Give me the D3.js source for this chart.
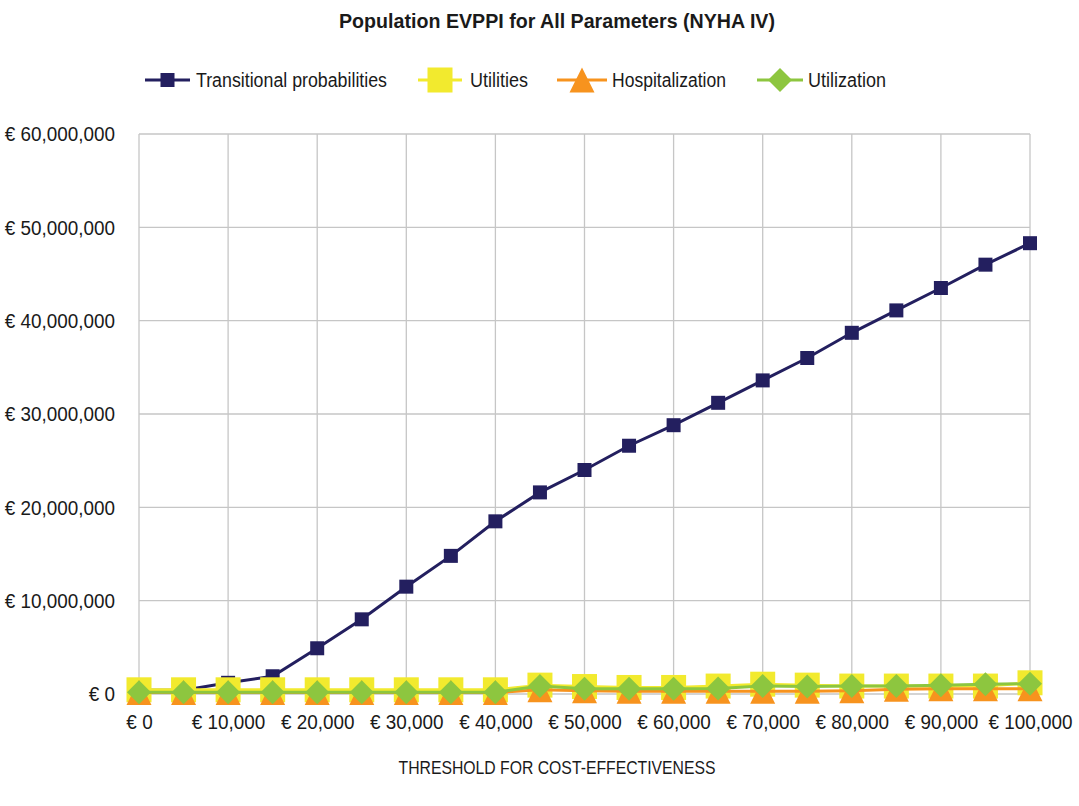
<!DOCTYPE html>
<html>
<head>
<meta charset="utf-8">
<script src="https://cdn.jsdelivr.net/npm/d3@7"></script>
<style>
  body { margin: 0; background: #fff; }
  svg text { font-family: "Liberation Sans", Arial, Helvetica, sans-serif; fill: #1a1a1a; }
</style>
</head>
<body>
<svg id="chart" width="1079" height="806"></svg>
<script>
const thresholds = [0,5000,10000,15000,20000,25000,30000,35000,40000,45000,50000,55000,60000,65000,70000,75000,80000,85000,90000,95000,100000];
const transitional = [0.4,0.4,1.2,1.9,4.9,8.0,11.5,14.8,18.5,21.6,24.0,26.6,28.8,31.2,33.6,36.0,38.7,41.1,43.5,46.0,48.3].map(v => v*1e6);
const utilities =    [0.45,0.45,0.45,0.45,0.45,0.45,0.45,0.45,0.45,0.95,0.8,0.7,0.7,0.85,1.05,0.95,0.85,0.85,0.85,0.85,1.2].map(v => v*1e6);
const hospitalization = [0.15,0.15,0.15,0.15,0.15,0.15,0.15,0.15,0.15,0.45,0.35,0.3,0.3,0.3,0.3,0.3,0.35,0.5,0.55,0.55,0.55].map(v => v*1e6);
const utilization = [0.2,0.2,0.2,0.2,0.2,0.2,0.2,0.2,0.2,0.85,0.55,0.55,0.55,0.6,0.85,0.8,0.85,0.85,0.95,1.05,1.1].map(v => v*1e6);
const yTicks = [0,10000000,20000000,30000000,40000000,50000000,60000000];
const xTicks = [0,10000,20000,30000,40000,50000,60000,70000,80000,90000,100000];
const seriesNames = ["Transitional probabilities","Utilities","Hospitalization","Utilization"];
const colors = ["#231f5f","#f2ea2e","#f7931e","#8dc63f"];
const titleText = "Population EVPPI for All Parameters (NYHA IV)";
const xTitle = "THRESHOLD FOR COST-EFFECTIVENESS";

const svg = d3.select("#chart");
const pl = 139, pr = 1030, pt = 134, pb = 694;
const x = d3.scaleLinear().domain([0,100000]).range([pl,pr]);
const y = d3.scaleLinear().domain([0,60000000]).range([pb,pt]);
const fmt = v => "€ " + d3.format(",")(v);
const squeeze = 0.9;

// gridlines
svg.append("g").selectAll("line").data(yTicks).join("line")
  .attr("x1", pl).attr("x2", pr).attr("y1", d => y(d)).attr("y2", d => y(d))
  .attr("stroke", "#c6c6c6").attr("stroke-width", 1.3);
svg.append("g").selectAll("line").data(xTicks).join("line")
  .attr("x1", d => x(d)).attr("x2", d => x(d)).attr("y1", pt).attr("y2", pb)
  .attr("stroke", "#c6c6c6").attr("stroke-width", 1.3);

// axes (labels only)
const yAxis = d3.axisLeft(y).tickValues(yTicks).tickFormat(fmt).tickSize(0).tickPadding(24);
const gy = svg.append("g").attr("transform", `translate(${pl},0)`).call(yAxis);
gy.attr("font-family", null).attr("font-size", null);
gy.select(".domain").remove();
gy.selectAll("text").attr("font-size", 21).attr("fill", "#1a1a1a")
  .attr("x", null).attr("transform", `translate(-24,0) scale(${squeeze},1)`);

const xAxis = d3.axisBottom(x).tickValues(xTicks).tickFormat(fmt).tickSize(0).tickPadding(20);
const gx = svg.append("g").attr("transform", `translate(0,${pb})`).call(xAxis);
gx.attr("font-family", null).attr("font-size", null);
gx.select(".domain").remove();
gx.selectAll("text").attr("font-size", 21).attr("fill", "#1a1a1a")
  .attr("transform", `scale(${squeeze},1)`);

// title
svg.append("text").attr("x", 557).attr("y", 28).attr("text-anchor", "middle")
  .attr("font-size", 21).attr("font-weight", "bold")
  .attr("textLength", 436).attr("lengthAdjust", "spacingAndGlyphs").text(titleText);
svg.append("text").attr("x", 557).attr("y", 774).attr("text-anchor", "middle")
  .attr("font-size", 18).attr("textLength", 317).attr("lengthAdjust", "spacingAndGlyphs").text(xTitle);

// markers
function square(g, cx, cy, s, c) {
  g.append("rect").attr("x", cx - s/2).attr("y", cy - s/2).attr("width", s).attr("height", s).attr("fill", c);
}
function triangle(g, cx, cy, s, c) {
  g.append("path").attr("d", `M${cx},${cy - s/2}L${cx + s/2},${cy + s/2}L${cx - s/2},${cy + s/2}Z`).attr("fill", c);
}
function diamond(g, cx, cy, s, c) {
  g.append("path").attr("d", `M${cx},${cy - s/2}L${cx + s/2},${cy}L${cx},${cy + s/2}L${cx - s/2},${cy}Z`).attr("fill", c);
}

const data = [transitional, utilities, hospitalization, utilization];
const drawers = [(g,cx,cy,c)=>square(g,cx,cy,14,c),(g,cx,cy,c)=>square(g,cx,cy,25,c),(g,cx,cy,c)=>triangle(g,cx,cy,25,c),(g,cx,cy,c)=>diamond(g,cx,cy,24,c)];
const line = d3.line().x((d,i) => x(thresholds[i])).y(d => y(d));

[0,1,2,3].forEach(k => {
  const g = svg.append("g");
  g.append("path").datum(data[k]).attr("d", line).attr("fill", "none")
    .attr("stroke", colors[k]).attr("stroke-width", 3);
  data[k].forEach((v,i) => drawers[k](g, x(thresholds[i]), y(v), colors[k]));
});

// legend
const legendItems = [
  {x0: 145, x1: 190, tx: 196, w: 191},
  {x0: 418, x1: 462, tx: 470, w: 58},
  {x0: 557, x1: 607, tx: 612, w: 114},
  {x0: 757, x1: 803, tx: 808, w: 78}
];
const ly = 80;
legendItems.forEach((it, k) => {
  const g = svg.append("g");
  g.append("line").attr("x1", it.x0).attr("x2", it.x1).attr("y1", ly).attr("y2", ly)
    .attr("stroke", colors[k]).attr("stroke-width", 3);
  drawers[k](g, (it.x0 + it.x1)/2, ly, colors[k]);
  g.append("text").attr("x", it.tx).attr("y", ly + 7).attr("font-size", 20)
    .attr("textLength", it.w).attr("lengthAdjust", "spacingAndGlyphs").text(seriesNames[k]);
});
</script>
</body>
</html>
